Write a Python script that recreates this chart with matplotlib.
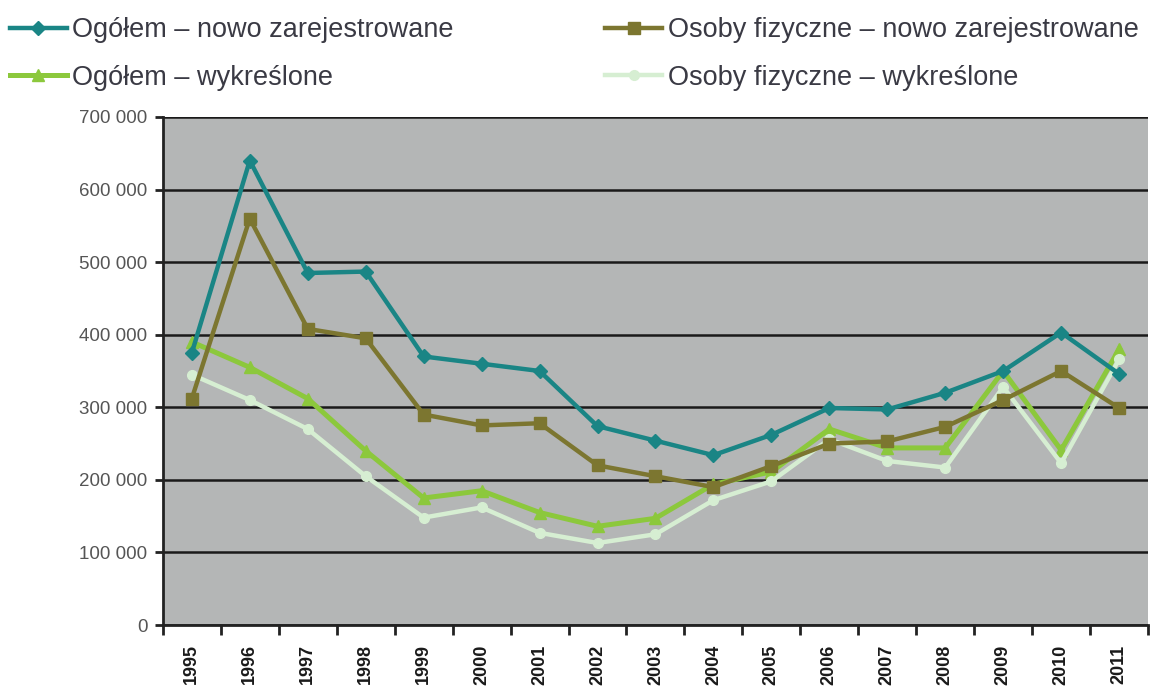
import numpy as np
import matplotlib
matplotlib.use("Agg")
import matplotlib.pyplot as plt
from matplotlib.ticker import FuncFormatter

plt.rcParams['font.family'] = ['Liberation Sans', 'DejaVu Sans']

# data
years = ['1995', '1996', '1997', '1998', '1999', '2000', '2001', '2002', '2003',
         '2004', '2005', '2006', '2007', '2008', '2009', '2010', '2011']
ogolem_nowe = [375000, 640000, 485000, 487000, 370000, 360000, 350000, 274000, 254000,
               234000, 262000, 299000, 297000, 320000, 350000, 403000, 346000]
fiz_nowe = [312000, 560000, 408000, 395000, 290000, 275000, 278000, 220000, 205000,
            190000, 219000, 250000, 253000, 273000, 310000, 350000, 299000]
ogolem_wykr = [390000, 355000, 312000, 240000, 175000, 185000, 155000, 136000, 147000,
               194000, 211000, 270000, 244000, 244000, 350000, 241000, 380000]
fiz_wykr = [345000, 310000, 270000, 205000, 148000, 162000, 127000, 113000, 125000,
            172000, 198000, 256000, 226000, 217000, 328000, 223000, 366000]
labels = ['Ogółem – nowo zarejestrowane', 'Osoby fizyczne – nowo zarejestrowane',
          'Ogółem – wykreślone', 'Osoby fizyczne – wykreślone']

fig = plt.figure(figsize=(11.55, 6.95), dpi=100)
ax = fig.add_axes([0.141, 0.1007, 0.853, 0.731])
ax.set_facecolor('#b4b6b6')

x = np.arange(len(years))
l1, = ax.plot(x, ogolem_nowe, color='#1a8585', lw=3.2, marker='D', ms=7, label=labels[0], zorder=5)
l2, = ax.plot(x, fiz_nowe, color='#7c7630', lw=3.2, marker='s', ms=8, label=labels[1], zorder=4)
l3, = ax.plot(x, ogolem_wykr, color='#8cc83c', lw=3.6, marker='^', ms=8, label=labels[2], zorder=3)
l4, = ax.plot(x, fiz_wykr, color='#d6eed2', lw=3.2, marker='o', ms=7, label=labels[3], zorder=3.5)

ax.set_ylim(0, 700000)
ax.set_xlim(-0.5, len(years) - 0.5)
ax.set_yticks(np.arange(0, 700001, 100000))
ax.yaxis.set_major_formatter(FuncFormatter(lambda v, p: f'{int(v):,}'.replace(',', ' ')))
ax.grid(axis='y', color='#1a1a1a', lw=1.8)
ax.set_axisbelow(True)

ax.set_xticks(x)
ax.set_xticklabels(years, rotation=90, fontsize=13, fontweight='bold', color='#1a1a1a')
ax.set_xticks(np.arange(-0.5, len(years)), minor=True)
ax.tick_params(axis='x', which='major', length=0, pad=14)
ax.tick_params(axis='x', which='minor', length=7, width=2, color='#222222')
ax.tick_params(axis='y', length=6, width=2, color='#222222', labelsize=13.5, labelcolor='#555555', pad=5)

for s in ['top', 'right']:
    ax.spines[s].set_visible(False)
for s in ['left', 'bottom']:
    ax.spines[s].set_color('#222222')
    ax.spines[s].set_linewidth(2)

fig.legend(handles=[l1, l3, l2, l4], ncol=2, loc='upper left', bbox_to_anchor=(0.004, 0.983),
           frameon=False, fontsize=19.5, handlelength=2.1, handletextpad=0.2, borderpad=0.2,
           borderaxespad=0, columnspacing=5.6, labelspacing=0.8, labelcolor='#3a3a44')

fig.savefig('out.png', dpi=100)
